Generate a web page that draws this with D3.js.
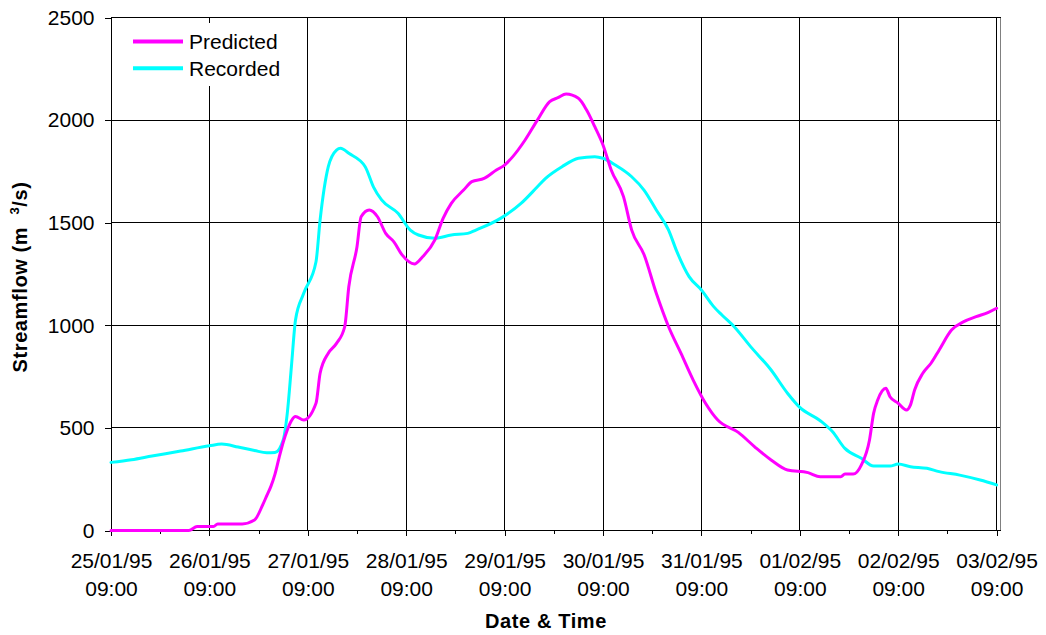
<!DOCTYPE html>
<html>
<head>
<meta charset="utf-8">
<script src="https://cdn.jsdelivr.net/npm/d3@7/dist/d3.min.js"></script>
<style>
  html, body { margin: 0; padding: 0; background: #fff; }
  svg { display: block; font-family: "Liberation Sans", Arial, sans-serif; }
</style>
</head>
<body>
<svg id="chart" width="1046" height="635"></svg>
<script>
// ---- data (hours from 25/01/95 09:00, streamflow m3/s) ----
const startTime = "1995-01-25T09:00:00";
const seriesNames = ["Predicted", "Recorded"];
const seriesColors = ["#FF00FF", "#00FFFF"];

const predictedHours = [0, 19, 21, 25, 26, 32, 35, 37, 38, 39, 40, 41, 42, 43, 44, 45, 47, 50, 51, 53, 55, 57, 58, 60, 61, 63, 65, 67, 69, 71, 74, 76, 79, 81, 83, 86, 88, 91, 94, 96, 98, 101, 104, 107, 109, 111, 114, 116, 118, 120, 122, 125, 127, 130, 133, 136, 139, 142, 145, 148, 153, 157, 161, 165, 170, 173, 178, 179, 181, 183, 185, 186, 187, 189, 190, 192, 194, 195, 196, 198, 200, 202, 205, 208, 211, 214, 216];
const predictedFlow = [0, 0, 19, 19, 32, 32, 51, 125, 170, 215, 275, 355, 430, 490, 535, 555, 538, 620, 766, 864, 912, 993, 1188, 1383, 1529, 1562, 1529, 1448, 1407, 1343, 1299, 1334, 1416, 1521, 1594, 1659, 1700, 1716, 1757, 1781, 1822, 1903, 2000, 2090, 2109, 2127, 2106, 2049, 1968, 1879, 1757, 1627, 1464, 1345, 1156, 993, 864, 733, 620, 538, 478, 408, 344, 295, 282, 262, 262, 275, 275, 319, 441, 571, 636, 693, 652, 620, 587, 612, 685, 766, 815, 880, 977, 1018, 1042, 1063, 1083];

const recordedHours = [0, 5, 10, 17, 24, 27, 31, 35, 38, 40, 42, 43, 44, 45, 47, 50, 51, 53, 55, 56, 58, 62, 64, 66, 70, 73, 75, 79, 83, 87, 89, 95, 100, 104, 106, 110, 114, 118, 120, 123, 127, 130, 133, 136, 138, 141, 144, 147, 149, 152, 156, 161, 165, 168, 173, 176, 179, 183, 186, 190, 192, 195, 199, 202, 207, 212, 216];
const recordedFlow = [332, 345, 363, 387, 413, 421, 407, 390, 379, 380, 441, 572, 798, 1026, 1156, 1310, 1513, 1773, 1854, 1863, 1838, 1773, 1675, 1611, 1546, 1464, 1440, 1424, 1440, 1448, 1464, 1521, 1594, 1675, 1716, 1773, 1814, 1822, 1814, 1781, 1724, 1659, 1562, 1464, 1360, 1237, 1172, 1091, 1050, 993, 896, 782, 669, 600, 535, 481, 400, 352, 314, 314, 324, 311, 303, 287, 270, 246, 222];

const yTicks = [0, 500, 1000, 1500, 2000, 2500];
const xTickDays = ["25/01/95", "26/01/95", "27/01/95", "28/01/95", "29/01/95", "30/01/95", "31/01/95", "01/02/95", "02/02/95", "03/02/95"];
const xTickTime = "09:00";
const yTitle = "Streamflow (m  ";
const yTitleSup = "3";
const yTitleEnd = "/s)";
const xTitle = "Date & Time";

// ---- layout ----
const plot = { left: 111, right: 1000.7, top: 17.5, bottom: 530.5 };
const start = new Date(startTime);
const toDate = h => d3.timeHour.offset(start, h);

const x = d3.scaleTime()
  .domain([start, toDate(217)])
  .range([plot.left, plot.right]);
const y = d3.scaleLinear()
  .domain([0, 2500])
  .range([plot.bottom, plot.top]);

const svg = d3.select("#chart");
svg.append("rect").attr("width", 1046).attr("height", 635).attr("fill", "#fff");

const snap = v => Math.round(v) + 0.5;
const majorDates = xTickDays.map((d, i) => d3.timeDay.offset(start, i));
const minorDates = xTickDays.slice(0, -1).map((d, i) => d3.timeHour.offset(start, i * 24 + 12));

// gridlines
const grid = svg.append("g").attr("shape-rendering", "crispEdges");
grid.selectAll("line.h").data(yTicks.filter(v => v > 0)).join("line")
  .attr("x1", plot.left).attr("x2", plot.right)
  .attr("y1", d => snap(y(d) - 0.5)).attr("y2", d => snap(y(d) - 0.5))
  .attr("stroke", "#000").attr("stroke-width", 1);
grid.selectAll("line.v").data(majorDates.slice(1)).join("line")
  .attr("x1", d => snap(x(d) - 0.5)).attr("x2", d => snap(x(d) - 0.5))
  .attr("y1", plot.top).attr("y2", plot.bottom)
  .attr("stroke", "#000").attr("stroke-width", 1);
// right border of plot area
grid.append("line")
  .attr("x1", 1000.5).attr("x2", 1000.5)
  .attr("y1", plot.top).attr("y2", plot.bottom)
  .attr("stroke", "#808080").attr("stroke-width", 1);

// y axis
const yAxis = d3.axisLeft(y).tickValues(yTicks).tickSize(6).tickSizeOuter(0).tickPadding(10).tickFormat(d3.format("d"));
const gy = svg.append("g").attr("transform", `translate(${plot.left - 0.5},0)`).call(yAxis);
gy.selectAll(".tick text").attr("font-size", 21).attr("fill", "#000").attr("font-family", "Liberation Sans, Arial, sans-serif");
gy.selectAll("line, path").attr("stroke", "#000").attr("shape-rendering", "crispEdges");

// x axis
const xAxis = d3.axisBottom(x).tickValues(majorDates).tickSize(6).tickSizeOuter(0).tickFormat("");
const gx = svg.append("g").attr("transform", `translate(0,${plot.bottom - 0.5})`).call(xAxis);
gx.select(".domain").attr("d", `M${plot.left},0.5H${plot.right}`);
gx.selectAll("line, path").attr("stroke", "#000").attr("shape-rendering", "crispEdges");
gx.selectAll(".tick").each(function(d, i) {
  const t = d3.select(this).select("text").attr("y", 0).attr("dy", null)
    .attr("font-size", 21).attr("fill", "#000").attr("font-family", "Liberation Sans, Arial, sans-serif");
  t.append("tspan").attr("x", 0).attr("y", 38).text(xTickDays[i]);
  t.append("tspan").attr("x", 0).attr("y", 66).text(xTickTime);
});
const xMinor = d3.axisBottom(x).tickValues(minorDates).tickSize(4).tickSizeOuter(0).tickFormat("");
const gxm = svg.append("g").attr("transform", `translate(0,${plot.bottom - 0.5})`).call(xMinor);
gxm.select(".domain").remove();
gxm.selectAll("line").attr("stroke", "#000").attr("shape-rendering", "crispEdges");

// series lines (drawn over the axes, as in the reference)
const series = [
  { name: seriesNames[0], color: seriesColors[0], pts: predictedHours.map((h, i) => [toDate(h), predictedFlow[i]]) },
  { name: seriesNames[1], color: seriesColors[1], pts: recordedHours.map((h, i) => [toDate(h), recordedFlow[i]]) }
];
const line = d3.line().x(d => x(d[0])).y(d => y(d[1])).curve(d3.curveMonotoneX);
svg.append("g").selectAll("path").data(series.slice().reverse()).join("path")
  .attr("d", d => line(d.pts))
  .attr("fill", "none")
  .attr("stroke", d => d.color)
  .attr("stroke-width", 3)
  .attr("stroke-linejoin", "round")
  .attr("stroke-linecap", "round");

// axis titles
svg.append("text")
  .attr("x", 546).attr("y", 628)
  .attr("text-anchor", "middle")
  .attr("font-size", 20).attr("font-weight", "bold")
  .attr("letter-spacing", 0.6)
  .text(xTitle);

const yt = svg.append("text")
  .attr("transform", "translate(27,277) rotate(-90)")
  .attr("text-anchor", "middle")
  .attr("font-size", 20).attr("font-weight", "bold")
  .attr("letter-spacing", 0.6)
  .style("white-space", "pre");
yt.append("tspan").text(yTitle);
yt.append("tspan").attr("font-size", 13).attr("dy", -8).text(yTitleSup);
yt.append("tspan").attr("dy", 8).text(yTitleEnd);

// legend
const lg = svg.append("g");
lg.append("rect").attr("x", 125).attr("y", 23).attr("width", 165).attr("height", 63).attr("fill", "#fff");
const items = lg.selectAll("g.item").data(series).join("g")
  .attr("transform", (d, i) => `translate(0,${41.5 + i * 26.7})`);
items.append("line").attr("x1", 133).attr("x2", 183).attr("y1", 0).attr("y2", 0)
  .attr("stroke", d => d.color).attr("stroke-width", 4);
items.append("text").attr("x", 189).attr("y", 7.5).attr("font-size", 21).text(d => d.name);
</script>
</body>
</html>
